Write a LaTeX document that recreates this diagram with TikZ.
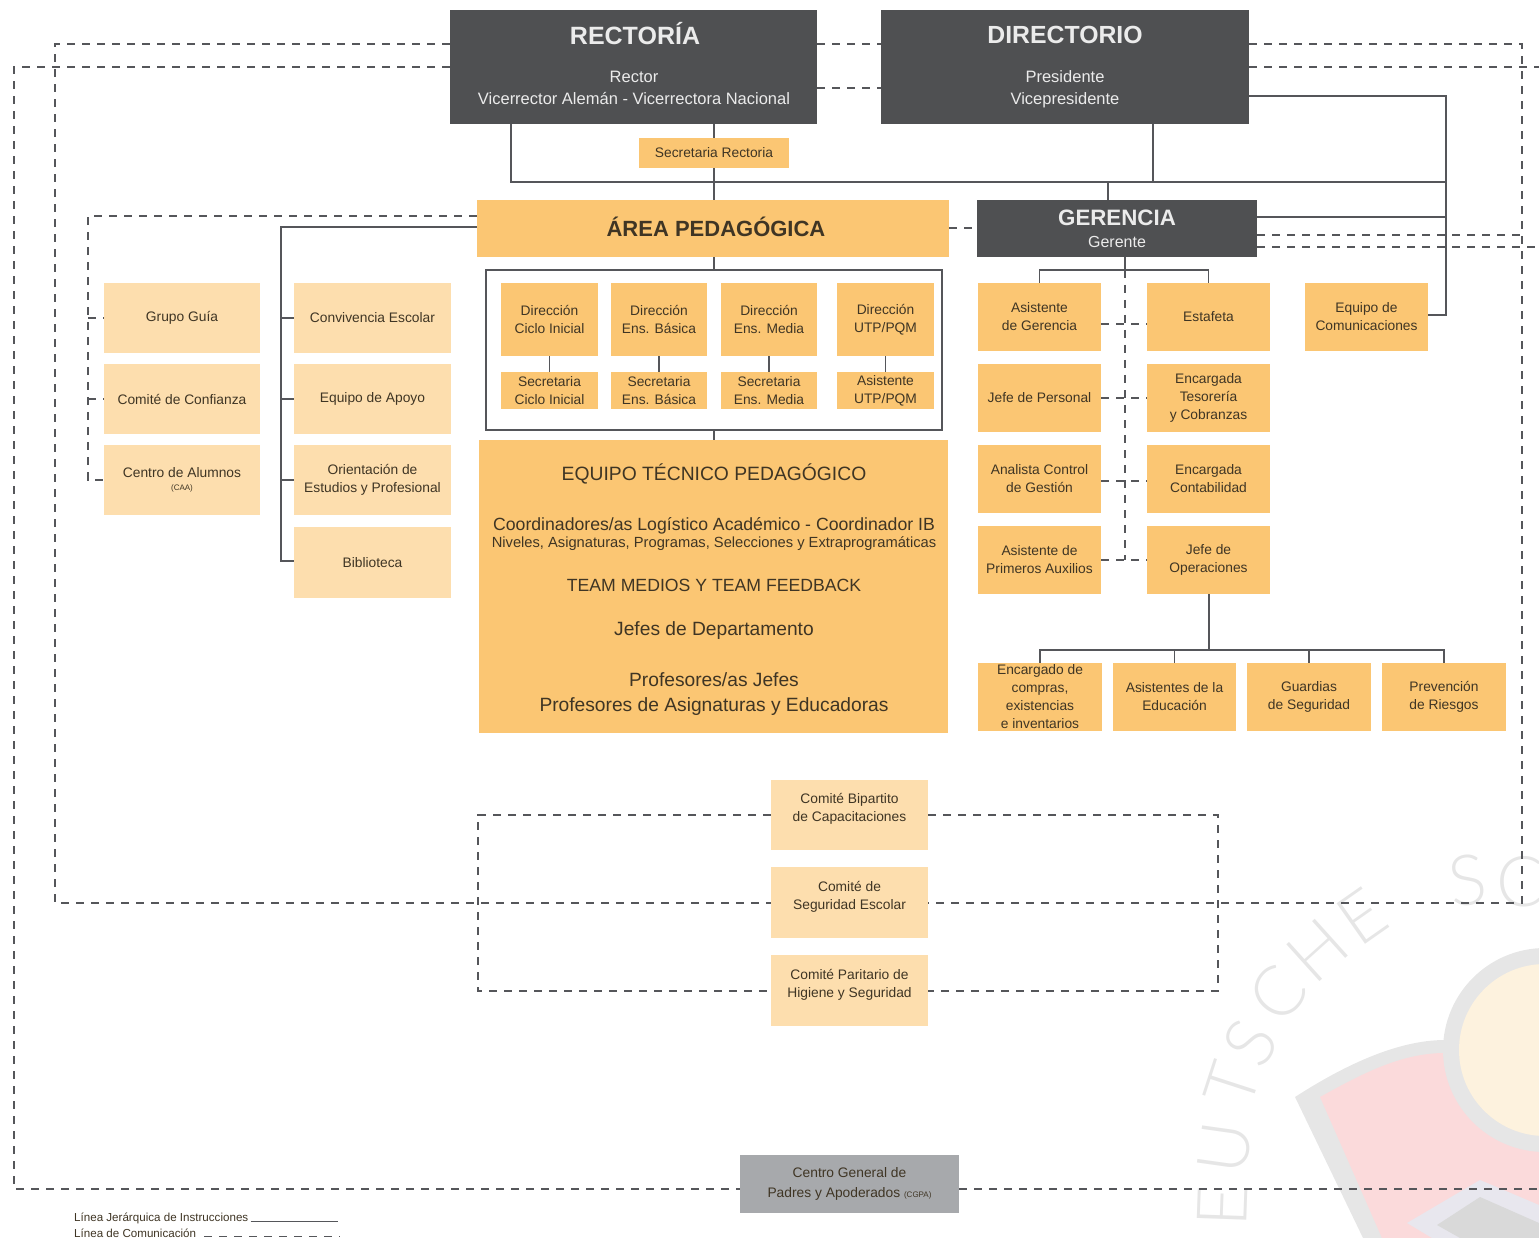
\documentclass[tikz,border=0pt]{standalone}
\usepackage{fontspec}
\setmainfont{Liberation Sans}
\newfontfamily\wmfont{Lato Light}
\definecolor{darkbox}{HTML}{4F5052}
\definecolor{orangebox}{HTML}{FBC673}
\definecolor{palebox}{HTML}{FDDEAE}
\definecolor{graybox}{HTML}{A7A9AC}
\definecolor{inktext}{HTML}{3F3524}
\definecolor{linecol}{HTML}{55565A}
\definecolor{wmgray}{HTML}{E6E6E6}
\definecolor{wmpink}{HTML}{FBDADB}
\definecolor{wmcream}{HTML}{FDF2DE}
\definecolor{wmlav}{HTML}{E8E7EE}
\definecolor{wmcore}{HTML}{D9D9D9}
\tikzset{
  sol/.style={draw=linecol,line width=1.4pt},
  dsh/.style={draw=linecol,line width=1.2pt,dash pattern=on 8pt off 7pt},
  boxbase/.style={inner sep=0pt,align=center,text=inktext,font=\fontsize{13.8}{18}\selectfont},
  orange/.style={boxbase,fill=orangebox},
  pale/.style={boxbase,fill=palebox},
  dark/.style={boxbase,fill=darkbox,text=white},
  grayb/.style={boxbase,fill=graybox},
  lbl/.style={inner sep=0pt,align=center,text=inktext},
  lblw/.style={inner sep=0pt,align=center,text=white!92!black},
  wm/.style={inner sep=0pt,text=wmgray,font=\wmfont\fontsize{70}{70}\selectfont}
}
\newcommand\orgbox[7]{\node[#6,minimum width={(#4-#2)*1pt},minimum height={(#5-#3)*1pt}] (#1) at ({(#2+#4)/2},{(#3+#5)/2}) {#7};}
\begin{document}
\begin{tikzpicture}[x=1pt,y=-1pt]
\useasboundingbox (0,0) rectangle (1539,1238);
\clip (0,0) rectangle (1539,1238);
% watermark
\fill[wmgray] (1295,1097) .. controls (1340,1068) and (1395,1040) .. (1445,1040) -- (1539,1040) -- (1539,1238) -- (1363,1238) -- cycle;
\fill[wmpink] (1320,1097) .. controls (1360,1075) and (1400,1053) .. (1445,1053) -- (1539,1053) -- (1539,1238) -- (1382,1238) -- cycle;
\fill[wmgray] (1545,1050) circle (102);
\fill[wmcream] (1545,1050) circle (86);
\fill[wmlav] (1407,1223) -- (1480,1180) -- (1539,1205) -- (1539,1238) -- (1432,1238) -- cycle;
\fill[wmcore] (1437,1225) -- (1480,1197) -- (1539,1223) -- (1539,1238) -- (1460,1238) -- cycle;
\node[wm,rotate=88] (w1) at (1222,1206) {E};
\node[wm,rotate=82] (w2) at (1225,1148) {U};
\node[wm,rotate=72] (w3) at (1232,1085) {T};
\node[wm,rotate=60] (w4) at (1250,1043) {S};
\node[wm,rotate=50] (w5) at (1278,993) {C};
\node[wm,rotate=42] (w6) at (1318,950) {H};
\node[wm,rotate=35] (w7) at (1362,917) {E};
\node[wm,rotate=8] (w8) at (1468,880) {S};
\node[wm,rotate=0] (w9) at (1520,882) {C};
% top
\orgbox{rec}{450}{10}{817}{124}{dark}{}
\orgbox{dir}{881}{10}{1249}{124}{dark}{}
\node[lblw,font=\bfseries\fontsize{25}{25}\selectfont] (rect) at (635,34) {RECTORÍA};
\node[lblw,font=\fontsize{16.5}{22}\selectfont] (recs) at (634,88) {Rector\\Vicerrector Alemán - Vicerrectora Nacional};
\node[lblw,font=\bfseries\fontsize{24.8}{25}\selectfont] (dirt) at (1065,35) {DIRECTORIO};
\node[lblw,font=\fontsize{16.5}{22}\selectfont] (dirs) at (1065,89) {Presidente\\Vicepresidente};
\orgbox{secr}{639}{138}{789}{168}{orange}{Secretaria Rectoria}
\orgbox{area}{477}{200}{949}{257}{orange,font=\bfseries\fontsize{22}{24}\selectfont}{\hspace*{6pt}\raisebox{4pt}{ÁREA PEDAGÓGICA}}
\orgbox{ger}{977}{200}{1257}{257}{dark}{}
\node[lblw,font=\bfseries\fontsize{22.3}{24}\selectfont] (gert) at (1117,218) {GERENCIA};
\node[lblw,font=\fontsize{16}{18}\selectfont] (gers) at (1117,242) {Gerente};
% frame
\node[draw=linecol,line width=1.4pt,inner sep=0pt,minimum width=456pt,minimum height=160pt] (frame) at (714,350) {};
\orgbox{d1}{501}{283}{598}{356}{orange}{Dirección\\Ciclo Inicial}
\orgbox{d2}{611}{283}{707}{356}{orange}{Dirección\\Ens. Básica}
\orgbox{d3}{721}{283}{817}{356}{orange}{Dirección\\Ens. Media}
\orgbox{d4}{837}{283}{934}{356}{orange}{Dirección\\UTP/PQM}
\orgbox{s1}{501}{372}{598}{409}{orange}{Secretaria\\Ciclo Inicial}
\orgbox{s2}{611}{372}{707}{409}{orange}{Secretaria\\Ens. Básica}
\orgbox{s3}{721}{372}{817}{409}{orange}{Secretaria\\Ens. Media}
\orgbox{s4}{837}{372}{934}{409}{orange}{\raisebox{-1pt}{Asistente}\\\raisebox{-1pt}{UTP/PQM}}
% equipo tecnico
\orgbox{etp}{479}{440}{948}{733}{orange}{}
\node[lbl,font=\fontsize{19.3}{24}\selectfont] (e1) at (714,474) {EQUIPO TÉCNICO PEDAGÓGICO};
\node[lbl,font=\fontsize{17.66}{22}\selectfont] (e2) at (714,526) {Coordinadores/as Logístico Académico - Coordinador IB};
\node[lbl,font=\fontsize{14.7}{16}\selectfont] (e3) at (714,544) {Niveles, Asignaturas, Programas, Selecciones y Extraprogramáticas};
\node[lbl,font=\fontsize{17.66}{22}\selectfont] (e4) at (714,585) {TEAM MEDIOS Y TEAM FEEDBACK};
\node[lbl,font=\fontsize{19.2}{22}\selectfont] (e5) at (714,631) {Jefes de Departamento};
\node[lbl,font=\fontsize{19.2}{25}\selectfont] (e6) at (714,694) {Profesores/as Jefes\\Profesores de Asignaturas y Educadoras};
% left columns
\orgbox{g1}{104}{283}{260}{353}{pale}{Grupo Guía}
\orgbox{g2}{104}{364}{260}{434}{pale}{Comité de Confianza}
\orgbox{g3}{104}{445}{260}{515}{pale}{Centro de Alumnos\\[-5pt]{\fontsize{8}{10}\selectfont (CAA)}}
\orgbox{c1}{294}{283}{451}{353}{pale}{Convivencia Escolar}
\orgbox{c2}{294}{364}{451}{434}{pale}{Equipo de Apoyo}
\orgbox{c3}{294}{445}{451}{515}{pale}{Orientación de\\Estudios y Profesional}
\orgbox{c4}{294}{527}{451}{598}{pale}{\raisebox{1pt}{Biblioteca}}
% gerencia columns
\orgbox{a1}{978}{283}{1101}{351}{orange}{Asistente\\de Gerencia}
\orgbox{a2}{978}{364}{1101}{432}{orange}{Jefe de Personal}
\orgbox{a3}{978}{445}{1101}{513}{orange}{Analista Control\\de Gestión}
\orgbox{a4}{978}{526}{1101}{594}{orange}{Asistente de\\Primeros Auxilios}
\orgbox{b1}{1147}{283}{1270}{351}{orange}{\raisebox{1pt}{Estafeta}}
\orgbox{b2}{1147}{364}{1270}{432}{orange}{Encargada\\Tesorería\\y Cobranzas}
\orgbox{b3}{1147}{445}{1270}{513}{orange}{Encargada\\Contabilidad}
\orgbox{b4}{1147}{526}{1270}{594}{orange}{Jefe de\\Operaciones}
\orgbox{eqc}{1305}{283}{1428}{351}{orange}{Equipo de\\Comunicaciones}
% bottom row
\orgbox{o1}{978}{663}{1102}{731}{orange}{Encargado de\\compras,\\existencias\\e inventarios}
\orgbox{o2}{1113}{663}{1236}{731}{orange}{Asistentes de la\\Educación}
\orgbox{o3}{1247}{663}{1371}{731}{orange}{Guardias\\de Seguridad}
\orgbox{o4}{1382}{663}{1506}{731}{orange}{Prevención\\de Riesgos}
% comites
\orgbox{k1}{771}{780}{928}{850}{pale}{Comité Bipartito\\de Capacitaciones\\[-2pt]}
\orgbox{k2}{771}{867}{928}{938}{pale}{Comité de\\Seguridad Escolar\\[-4pt]}
\orgbox{k3}{771}{955}{928}{1026}{pale}{Comité Paritario de\\Higiene y Seguridad\\[-3pt]}
\orgbox{cgp}{740}{1155}{959}{1213}{grayb}{Centro General de\\[2pt]Padres y Apoderados {\fontsize{8}{10}\selectfont (CGPA)}}
% legend
\node[lbl,anchor=west,font=\fontsize{11.6}{13}\selectfont] (l1) at (74,1218) {Línea Jerárquica de Instrucciones};
\node[lbl,anchor=west,font=\fontsize{11.6}{13}\selectfont] (l2) at (74,1233) {Línea de Comunicación};
\coordinate (l1e) at (338,1221);
\coordinate (l2e) at (340,1236.5);
\draw[sol,line width=1pt] (l1.east |- l1e) ++(2,0) -- (l1e);
\draw[dsh,line width=1pt] (l2.east |- l2e) ++(8,0) -- (l2e);
% solid connectors
\coordinate (busL) at (511,182);
\coordinate (busR) at (1446,182);
\coordinate (busA) at (714,182);
\coordinate (busD) at (1153,182);
\coordinate (busG) at (1108,182);
\draw[sol] (busL |- rec.south) -- (busL) -- (busR);
\draw[sol] (secr.north) -- (secr.north |- rec.south);
\draw[sol] (secr.south) -- (secr.south |- busA);
\draw[sol] (busA) -- (busA |- area.north);
\draw[sol] (busD |- dir.south) -- (busD);
\draw[sol] (busG) -- (busG |- ger.north);
\coordinate (rt) at (1446,96);
\coordinate (rb) at (1446,315);
\draw[sol] (dir.east |- rt) -- (rt) -- (rb) -- (eqc.east |- rb);
\draw[sol] (ger.east |- 0,217) -- (1446,217);
% area pedagogica branches
\coordinate (tr) at (281,227);
\coordinate (trb) at (281,561);
\draw[sol] (area.west |- tr) -- (tr) -- (trb) -- (c4.west |- trb);
\draw[sol] (c1.west |- 0,318) -- (281,318);
\draw[sol] (c2.west |- 0,399) -- (281,399);
\draw[sol] (c3.west |- 0,480) -- (281,480);
\draw[sol] (area.south -| frame.north) -- (frame.north);
\draw[sol] (frame.south) -- (frame.south |- etp.north);
\draw[sol] (d1.south -| s1.north) -- (s1.north);
\draw[sol] (d2.south -| s2.north) -- (s2.north);
\draw[sol] (d3.south -| s3.north) -- (s3.north);
\draw[sol] (d4.south -| s4.north) -- (s4.north);
% gerencia branches
\coordinate (gj) at (1125,270);
\draw[sol] (gj |- ger.south) -- (gj);
\draw[sol] (a1.north) -- (a1.north |- gj) -- (b1.north |- gj) -- (b1.north);
\coordinate (oj) at (1209,650);
\draw[sol] (oj |- b4.south) -- (oj);
\draw[sol] (o1.north) -- (o1.north |- oj) -- (o4.north |- oj) -- (o4.north);
\draw[sol] (o2.north) -- (o2.north |- oj);
\draw[sol] (o3.north) -- (o3.north |- oj);
% dashed connectors
\coordinate (gd) at (1125,560);
\draw[dsh] (gj) -- (gd);
\draw[dsh] (a1.east |- 0,324) -- (b1.west |- 0,324);
\draw[dsh] (a2.east |- 0,398) -- (b2.west |- 0,398);
\draw[dsh] (a3.east |- 0,481) -- (b3.west |- 0,481);
\draw[dsh] (a4.east |- 0,560) -- (b4.west |- 0,560);
\draw[dsh] (area.east |- 0,228) -- (ger.west |- 0,228);
\draw[dsh] (rec.east |- 0,44) -- (dir.west |- 0,44);
\draw[dsh] (rec.east |- 0,88) -- (dir.west |- 0,88);
% area pedagogica dashed
\coordinate (pdT) at (88,216);
\coordinate (pdB) at (88,480);
\draw[dsh] (area.west |- pdT) -- (pdT) -- (pdB) -- (g3.west |- pdB);
\draw[dsh] (88,318) -- (g1.west |- 0,318);
\draw[dsh] (88,399) -- (g2.west |- 0,399);
% inner and outer loops
\coordinate (iTL) at (55,44);
\coordinate (iBL) at (55,903);
\coordinate (iTR) at (1522,44);
\coordinate (iBR) at (1522,903);
\draw[dsh] (rec.west |- iTL) -- (iTL) -- (iBL) -- (k2.west |- iBL);
\draw[dsh] (dir.east |- iTR) -- (iTR) -- (iBR) -- (k2.east |- iBR);
\coordinate (oTL) at (14,67);
\coordinate (oBL) at (14,1189);
\coordinate (oTR) at (1539,67);
\coordinate (oBR) at (1539,1189);
\draw[dsh] (rec.west |- oTL) -- (oTL) -- (oBL) -- (cgp.west |- oBL);
\draw[dsh] (dir.east |- oTR) -- (oTR);
\draw[dsh] (cgp.east |- oBR) -- (oBR);
\draw[dsh] (ger.east |- 0,235) -- (1520,235);
\draw[dsh] (ger.east |- 0,247) -- (1539,247);
% comite loops
\coordinate (kTL) at (478,815);
\coordinate (kBL) at (478,991);
\coordinate (kTR) at (1218,815);
\coordinate (kBR) at (1218,991);
\draw[dsh] (k1.west |- kTL) -- (kTL) -- (kBL) -- (k3.west |- kBL);
\draw[dsh] (k1.east |- kTR) -- (kTR) -- (kBR) -- (k3.east |- kBR);
\end{tikzpicture}
\end{document}
